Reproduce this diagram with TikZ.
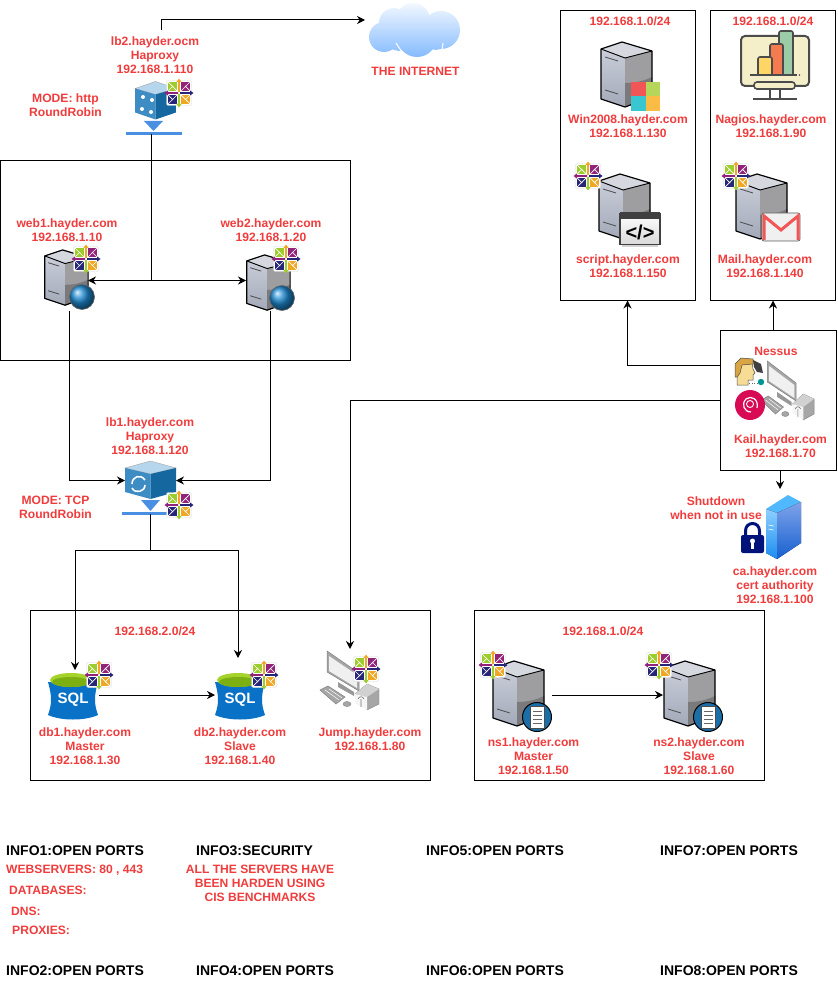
\documentclass[tikz,border=0pt]{standalone}
\usepackage{fontspec}
\setmainfont{Liberation Sans}
\usetikzlibrary{arrows.meta}
\definecolor{labelred}{HTML}{F03C3C}
\definecolor{barblue}{HTML}{4A90E2}
\definecolor{centgreen}{HTML}{9CCD2A}
\definecolor{centpurple}{HTML}{932279}
\definecolor{centnavy}{HTML}{262577}
\definecolor{centorange}{HTML}{EFA724}
\definecolor{cubetop}{HTML}{B5D6EC}
\definecolor{cubeleft}{HTML}{3D8CC4}
\definecolor{cuberight}{HTML}{14689F}
\definecolor{sqlblue}{HTML}{0A72C6}
\definecolor{monline}{HTML}{4B4B4B}
\definecolor{moncream}{HTML}{F5EFC9}
\definecolor{srvtop}{HTML}{D5D8DF}
\definecolor{srvfronta}{HTML}{C9CDD9}
\definecolor{srvfrontb}{HTML}{A3A9B8}
\definecolor{srvside}{HTML}{9E9EA0}
\definecolor{srvsidedark}{HTML}{7A7A7C}
\definecolor{globeblue}{HTML}{1E8AD2}
\definecolor{badgeblue}{HTML}{1B6FA8}
\definecolor{pcgray}{HTML}{A6A6A6}
\tikzset{
  netbox/.style={draw=black, line width=1pt, inner sep=0pt, outer sep=0pt},
  hostbox/.style={inner sep=0pt, outer sep=0pt},
  lbl/.style={font=\fontsize{12.1}{14}\selectfont\bfseries, text=labelred, align=center, inner sep=0pt},
  listlbl/.style={lbl, anchor=west},
  infolbl/.style={font=\fontsize{14}{14}\selectfont\bfseries, text=black, anchor=west, inner sep=0pt},
  line/.style={line width=1pt},
  conn/.style={line width=1pt, -{Stealth[length=8pt, width=8pt]}},
  barline/.style={draw=barblue, line width=3pt},
  centos/.pic={
    \fill[white, draw=gray!30, rounded corners=2pt] (-12.5,-12.5) rectangle (12.5,12.5);
    \fill[centgreen] (-11,-11) rectangle (-2,-2);
    \fill[centpurple] (2,-11) rectangle (11,-2);
    \fill[centnavy] (-11,2) rectangle (-2,11);
    \fill[centorange] (2,2) rectangle (11,11);
    \draw[white, line width=.7pt] (-11,-11) -- (-2,-2) (-11,-2) -- (-6,-7);
    \draw[white, line width=.7pt] (11,-11) -- (2,-2) (11,-2) -- (6,-7);
    \draw[white, line width=.7pt] (-11,11) -- (-2,2) (-11,2) -- (-6,7);
    \draw[white, line width=.7pt] (11,11) -- (2,2) (11,2) -- (6,7);
    \foreach \r/\c in {0/centorange,90/centpurple,180/centgreen,270/centnavy}
      \fill[\c, rotate=\r] (-.9,-1) -- (-.9,-11) -- (-2.6,-11) -- (0,-14.5) -- (2.6,-11) -- (.9,-11) -- (.9,-1) -- cycle;
  },
  server/.pic={
    \fill[srvtop] (-25,-26) -- (-4,-33) -- (26,-24) -- (-1,-17) -- cycle;
    \fill[top color=srvfronta, bottom color=srvfrontb] (-25,-26) -- (-1,-17) -- (-1,32) -- (-25,24) -- cycle;
    \fill[srvside] (-1,-17) -- (26,-24) -- (26,22) -- (-1,32) -- cycle;
    \fill[srvsidedark] (-1,8) .. controls (9,8) and (18,6) .. (26,2) -- (26,22) -- (-1,32) -- cycle;
    \draw[black, line width=1.2pt, line join=round] (-25,-26) -- (-4,-33) -- (26,-24) -- (26,22) -- (-1,32) -- (-25,24) -- cycle;
    \draw[black, line width=.9pt] (-25,-26) -- (-1,-17) -- (26,-24);
    \draw[black!70, line width=.8pt] (-21,-18) -- (-8,-14) (-21,15) -- (-8,19);
  },
  globe/.pic={
    \shade[ball color=globeblue] (0,0) circle (12.5);
    \draw[black!60, line width=.6pt] (0,0) circle (12.5);
  },
  docbadge/.pic={
    \fill[badgeblue, draw=black, line width=1pt] (0,0) circle (14.5);
    \fill[white, draw=black!70, line width=.6pt] (-7,-11) rectangle (7,11);
    \draw[black!60, line width=.6pt] (-4.5,-6) -- (4.5,-6) (-4.5,-2) -- (4.5,-2) (-4.5,2) -- (4.5,2) (-4.5,6) -- (4.5,6);
  },
  winflag/.pic={
    \fill[flagred] (-14.5,-14.5) rectangle (0,0);
    \fill[flaggreen] (0,-14.5) rectangle (14.5,0);
    \fill[flagcyan] (-14.5,0) rectangle (0,14.5);
    \fill[flagorange] (0,0) rectangle (14.5,14.5);
  },
  codewin/.pic={
    \fill[gray!35] (-18,15) rectangle (18,18);
    \fill[top color=white, bottom color=gray!30, draw=black!75, line width=1.2pt] (-20,-16) rectangle (20,15);
    \fill[black!75] (-20,-17) rectangle (20,-10);
    \node[font=\fontsize{20}{20}\selectfont\bfseries] (codetag) at (0,3) {</>};
  },
  gmailicon/.pic={
    \fill[gray!12, draw=black!65, line width=.7pt, rounded corners=2pt] (-19,-14) rectangle (19,14);
    \draw[flagred, line width=3pt] (-17,13) -- (-17,-11) -- (0,3) -- (17,-11) -- (17,13);
  },
  nagiosmon/.pic={
    \draw[monline, fill=moncream, line width=2pt, rounded corners=4pt] (-34,-29) rectangle (34,21);
    \draw[monline, fill=nagbargreen, line width=1.6pt, rounded corners=2pt] (4,10) -- (4,-34) -- (18,-34) -- (18,10);
    \draw[monline, fill=nagbarorange, line width=1.6pt, rounded corners=2pt] (-5,10) -- (-5,-21) -- (8,-21) -- (8,10);
    \draw[monline, fill=nagbaryellow, line width=1.6pt, rounded corners=2pt] (-17,10) -- (-17,-8) -- (-3,-8) -- (-3,10);
    \draw[monline, line width=1.6pt] (-25,10) -- (22,10);
    \fill[monline] (24.5,10) circle (.8);
    \draw[monline, line width=2pt] (-5,24) -- (-5,34) (5,24) -- (5,34) (-22,34) -- (22,34);
    \draw[monline, fill=moncream, line width=1.6pt, rounded corners=3pt] (-21,17) rectangle (20,24);
  },
  sqlcan/.pic={
    \fill[sqlblue] (-25,-14) .. controls (-21,0) and (-21,8) .. (-25,19) .. controls (-12,25) and (12,25) .. (25,19) .. controls (21,8) and (21,0) .. (25,-14) -- cycle;
    \fill[sqlgreen] (-2,-16) ellipse (21 and 7);
    \fill[sqlgreendark] (-2,-14) ellipse (19 and 5);
    \node[font=\fontsize{15}{15}\selectfont\bfseries, text=white, inner sep=0pt] (sqltag) at (0,4) {SQL};
  },
  cubebase/.pic={
    \fill[cubetop, draw=black!35, line width=.4pt] (-25.5,-12) -- (0,-19) -- (25.5,-12) -- (0,-6) -- cycle;
    \fill[cubeleft] (-25.5,-12) -- (0,-6) -- (0,19) -- (-25.5,12) -- cycle;
    \fill[cuberight] (0,-6) -- (25.5,-12) -- (25.5,12) -- (0,19) -- cycle;
  },
  pcdesk/.pic={
    \fill[pcgray, draw=black!50, line width=.5pt] (-23,-29) -- (9,-7) -- (9,11) -- (-23,-8) -- cycle;
    \fill[black!6] (-21,-24) -- (7,-5) -- (7,8) -- (-21,-9) -- cycle;
    \fill[black!40] (-12,2) -- (4,12) -- (4,16) -- (-12,7) -- cycle;
    \fill[pcgray, draw=black!50, line width=.5pt] (-30,10) -- (-22,6) -- (-5,17) -- (-14,24) -- cycle;
    \draw[white, line width=.5pt] (-25,10) -- (-11,20) (-21,9) -- (-8,18);
    \fill[pcgray, draw=black!50, line width=.4pt] (-3,24) ellipse (4 and 2.5);
    \fill[pcgray, draw=black!50, line width=.4pt] (5,14) -- (17,4) -- (29,9) -- (29,24) -- (17,30) -- cycle;
    \fill[black!18] (5,14) -- (17,4) -- (29,9) -- (17,17) -- cycle;
    \fill[black!4] (5,14) -- (17,17) -- (17,30) -- (5,23) -- cycle;
    \draw[black!55, line width=.6pt] (11,19) -- (11,27) (8,19) .. controls (9,16) and (13,16) .. (14,19);
  },
  person/.pic={
    \fill[skintone, draw=black!70, line width=.5pt] (-8,-9) -- (7,-9) -- (8,-3) -- (10,1) -- (8,3) -- (8,8) -- (3,8) -- (3,13) -- (-8,13) -- cycle;
    \fill[hairtone, draw=black!70, line width=.5pt] (-10,5) -- (-10,-8) -- (-4,-14) -- (8,-13) -- (8,-8) -- (-3,-7) -- (-5,1) -- (-8,5) -- cycle;
    \fill[black!75] (8,-12) -- (16,-8) -- (18,1) -- (12,0) -- (9,-5) -- cycle;
    \draw[black!60, dotted, line width=.7pt] (4,11) -- (13,11);
    \fill[teal!85!cyan] (16,10) circle (3.2);
  },
  debianlogo/.pic={
    \fill[debianred] (0,0) circle (15);
    \draw[white, line width=1.2pt] (7,3) .. controls (9,-6) and (1,-10) .. (-4,-6) .. controls (-9,-1) and (-6,7) .. (1,7);
    \draw[white, line width=.9pt] (0,-1) circle (3.5);
  },
  inetcloud/.pic={
    \shade[top color=cloudtop, bottom color=cloudbottom]
      (-30,7) circle (15) (-20,-7) circle (15) (-1,-10) circle (17) (27,0) circle (19)
      (3,7) circle (20) (-15,8) circle (13) (22,8) circle (12);
    \draw[white, line width=1pt] (-18,13) .. controls (-15,18) and (-12,22) .. (-9,25);
    \draw[white, line width=1pt] (29,13) -- (28,20);
  },
  caserver/.pic={
    \fill[catop] (-17.5,-18) -- (4.5,-32) -- (17.5,-25) -- (-6.5,-14) -- cycle;
    \fill[top color=caleft, bottom color=caleftb] (-17.5,-18) -- (-6.5,-14) -- (-6.5,32) -- (-17.5,26) -- cycle;
    \fill[top color=carighta, bottom color=carightb] (-6.5,-14) -- (17.5,-25) -- (17.5,16) -- (-6.5,32) -- cycle;
    \draw[white, line width=.6pt] (-15,-2) -- (-10,-1) (-15,2) -- (-10,3);
  },
  padlock/.pic={
    \draw[locknavy, line width=3pt] (-7,-3) -- (-7,-7) .. controls (-7,-17) and (7,-17) .. (7,-7) -- (7,-3);
    \fill[locknavy, rounded corners=2pt] (-11.5,-3) rectangle (11.5,15);
    \fill[white] (0,3) circle (2.5);
    \fill[white] (-1.2,3) rectangle (1.2,11);
  }
}
\definecolor{flagred}{HTML}{F25555}
\definecolor{flaggreen}{HTML}{B5D55B}
\definecolor{flagcyan}{HTML}{38C6D0}
\definecolor{flagorange}{HTML}{FBBC45}
\definecolor{nagbargreen}{HTML}{9CCBA8}
\definecolor{nagbarorange}{HTML}{F47B50}
\definecolor{nagbaryellow}{HTML}{FFD666}
\definecolor{sqlgreen}{HTML}{A5D32C}
\definecolor{sqlgreendark}{HTML}{7BAF12}
\definecolor{skintone}{HTML}{F7DC96}
\definecolor{hairtone}{HTML}{D9A441}
\definecolor{debianred}{HTML}{D70A53}
\definecolor{cloudtop}{HTML}{F2F8FF}
\definecolor{cloudbottom}{HTML}{85BBFF}
\definecolor{catop}{HTML}{4FB8FF}
\definecolor{caleft}{HTML}{8FD0FF}
\definecolor{caleftb}{HTML}{1A8CF0}
\definecolor{carighta}{HTML}{7FA3EA}
\definecolor{carightb}{HTML}{1660D0}
\definecolor{locknavy}{HTML}{00137A}
\begin{document}
\begin{tikzpicture}[x=1pt, y=-1pt]
\useasboundingbox (0,0) rectangle (837,981);
\node[netbox, minimum width=350, minimum height=200] (webnet) at (175.5,260.5) {};
\node[netbox, minimum width=400, minimum height=170] (dbnet) at (230.5,695.5) {};
\node[netbox, minimum width=290, minimum height=170] (nsnet) at (619.5,695.5) {};
\node[netbox, minimum width=116, minimum height=140] (kalibox) at (778,400.5) {};
\node[netbox, minimum width=135, minimum height=290] (winbox) at (627.5,155.5) {};
\node[netbox, minimum width=125, minimum height=290] (nagbox) at (773,155.5) {};
\node[hostbox, minimum width=98, minimum height=20] (cloudnode) at (414,30) {};
\node[hostbox, minimum width=38, minimum height=60] (web1) at (69,280.5) {};
\node[hostbox, minimum width=48, minimum height=60] (web2) at (270,280.5) {};
\node[hostbox, minimum width=51, minimum height=40] (lb1) at (150.5,480.5) {};
\node[hostbox, minimum width=48, minimum height=50] (db1) at (75,695) {};
\node[hostbox, minimum width=46, minimum height=74] (db2) at (238,695) {};
\node[hostbox, minimum width=60, minimum height=62] (jump) at (350,680) {};
\node[hostbox, minimum width=68, minimum height=60] (ns1) at (518,695) {};
\node[hostbox, minimum width=52, minimum height=60] (ns2) at (689,695) {};
\node[hostbox, minimum width=40, minimum height=72] (canode) at (780,525) {};
\coordinate (inetout) at (161.5,30);
\coordinate (lb2out) at (151,134);
\coordinate (webjoin) at (151,280.5);
\coordinate (lb1out) at (150.5,514);
\coordinate (lb1join) at (150.5,550.5);
\coordinate (kaliout) at (720,365.5);
\pic at (414,30) {inetcloud};
\pic[xscale=.8] at (155.5,100.5) {cubebase};
\fill[white] (143,97) circle (2) (152,100) circle (2) (142,109) circle (2) (151,112) circle (2);
\fill[barblue] (144,121) -- (163,121) -- (153.5,131) -- cycle;
\draw[barline] (126,133.5) -- (182,133.5);
\pic at (150.5,480) {cubebase};
\draw[white, line width=1.6pt] (132,484) .. controls (132,476) and (141,474) .. (145,480);
\draw[white, line width=1.6pt] (145,485) .. controls (145,492) and (135,494) .. (132,488);
\fill[barblue] (141,500) -- (160,500) -- (150.5,511) -- cycle;
\draw[barline] (122,513.5) -- (178,513.5);
\pic[scale=.85] at (66,278) {server};
\pic at (82,297) {globe};
\pic[scale=.85] at (268,283) {server};
\pic at (282,298) {globe};
\pic at (626,75) {server};
\pic at (645.5,96.5) {winflag};
\pic at (624,207) {server};
\pic at (640,229.5) {codewin};
\pic at (761,207) {server};
\pic at (781,227) {gmailicon};
\pic at (775,65) {nagiosmon};
\pic at (518,694) {server};
\pic at (537,717) {docbadge};
\pic at (689,694) {server};
\pic at (708,717) {docbadge};
\pic at (73,696) {sqlcan};
\pic at (240,696) {sqlcan};
\pic at (350,680) {pcdesk};
\pic[xscale=.9] at (788,390) {pcdesk};
\pic at (745,372) {person};
\pic at (750,405) {debianlogo};
\pic at (783.5,527) {caserver};
\pic at (752.5,538) {padlock};
\pic at (179,93) {centos};
\pic at (86,259) {centos};
\pic at (286,259) {centos};
\pic at (179,505) {centos};
\pic at (99,675) {centos};
\pic at (264,675) {centos};
\pic at (366,669) {centos};
\pic at (588,176) {centos};
\pic at (736,176) {centos};
\pic at (493,665) {centos};
\pic at (659,665) {centos};
\node[lbl] (lb2label) at (155,55.5) {lb2.hayder.ocm\\Haproxy\\192.168.1.110};
\node[lbl] (lb2mode) at (65.5,105) {MODE: http\\RoundRobin};
\node[lbl] (inetlabel) at (415.5,71) {THE INTERNET};
\node[lbl] (web1label) at (67,230.5) {web1.hayder.com\\192.168.1.10};
\node[lbl] (web2label) at (271,230.5) {web2.hayder.com\\192.168.1.20};
\node[lbl] (lb1label) at (150,436) {lb1.hayder.com\\Haproxy\\192.168.1.120};
\node[lbl] (lb1mode) at (55.5,507) {MODE: TCP\\RoundRobin};
\node[lbl] (dbnetlabel) at (155,631) {192.168.2.0/24};
\node[lbl] (db1label) at (85,746) {db1.hayder.com\\Master\\192.168.1.30};
\node[lbl] (db2label) at (240,746) {db2.hayder.com\\Slave\\192.168.1.40};
\node[lbl] (jumplabel) at (370,739) {Jump.hayder.com\\192.168.1.80};
\node[lbl] (nsnetlabel) at (603,631) {192.168.1.0/24};
\node[lbl] (ns1label) at (533.5,756) {ns1.hayder.com\\Master\\192.168.1.50};
\node[lbl] (ns2label) at (699,756) {ns2.hayder.com\\Slave\\192.168.1.60};
\node[lbl] (nessuslabel) at (776,351) {Nessus};
\node[lbl] (kalilabel) at (780.5,446) {Kail.hayder.com\\192.168.1.70};
\node[lbl] (shutlabel) at (716,508) {Shutdown\\when not in use};
\node[lbl] (calabel) at (775,585) {ca.hayder.com\\cert authority\\192.168.1.100};
\node[lbl] (winnet) at (630,21) {192.168.1.0/24};
\node[lbl] (winlabel) at (628,126) {Win2008.hayder.com\\192.168.1.130};
\node[lbl] (scriptlabel) at (628,266) {script.hayder.com\\192.168.1.150};
\node[lbl] (nagnet) at (773,21) {192.168.1.0/24};
\node[lbl] (naglabel) at (771,126) {Nagios.hayder.com\\192.168.1.90};
\node[lbl] (maillabel) at (765,266) {Mail.hayder.com\\192.168.1.140};
\node[infolbl] (info1) at (6,851) {INFO1:OPEN PORTS};
\node[infolbl] (info2) at (6,971) {INFO2:OPEN PORTS};
\node[infolbl] (info3) at (196,851) {INFO3:SECURITY};
\node[infolbl] (info4) at (196,971) {INFO4:OPEN PORTS};
\node[infolbl] (info5) at (426,851) {INFO5:OPEN PORTS};
\node[infolbl] (info6) at (426,971) {INFO6:OPEN PORTS};
\node[infolbl] (info7) at (660,851) {INFO7:OPEN PORTS};
\node[infolbl] (info8) at (660,971) {INFO8:OPEN PORTS};
\node[listlbl] (webports) at (6,870) {WEBSERVERS: 80 , 443};
\node[listlbl] (dbports) at (9,890) {DATABASES:};
\node[listlbl] (dnsports) at (11,911) {DNS:};
\node[listlbl] (proxyports) at (12,930) {PROXIES:};
\node[lbl] (seclabel) at (260,883) {ALL THE SERVERS HAVE\\BEEN HARDEN USING\\CIS BENCHMARKS};
\draw[conn] (inetout) |- (cloudnode.north west);
\draw[line] (lb2out) -- (webjoin);
\draw[conn] (webjoin) -- (web1.east);
\draw[conn] (webjoin) -- (web2.west);
\draw[conn] (web1.south) |- (lb1.west);
\draw[conn] (web2.south) |- (lb1.east);
\draw[line] (lb1out) -- (lb1join);
\draw[conn] (lb1join) -| (db1.north);
\draw[conn] (lb1join) -| (db2.north);
\draw[conn] (db1.east) -- (db2.west);
\draw[conn] (kalibox.west) -| (jump.north);
\draw[conn] (kaliout) -| (winbox.south);
\draw[conn] (nagbox.south |- kalibox.north) -- (nagbox.south);
\draw[conn] (canode.north |- kalibox.south) -- (canode.north);
\draw[conn] (ns1.east) -- (ns2.west);
\end{tikzpicture}
\end{document}
